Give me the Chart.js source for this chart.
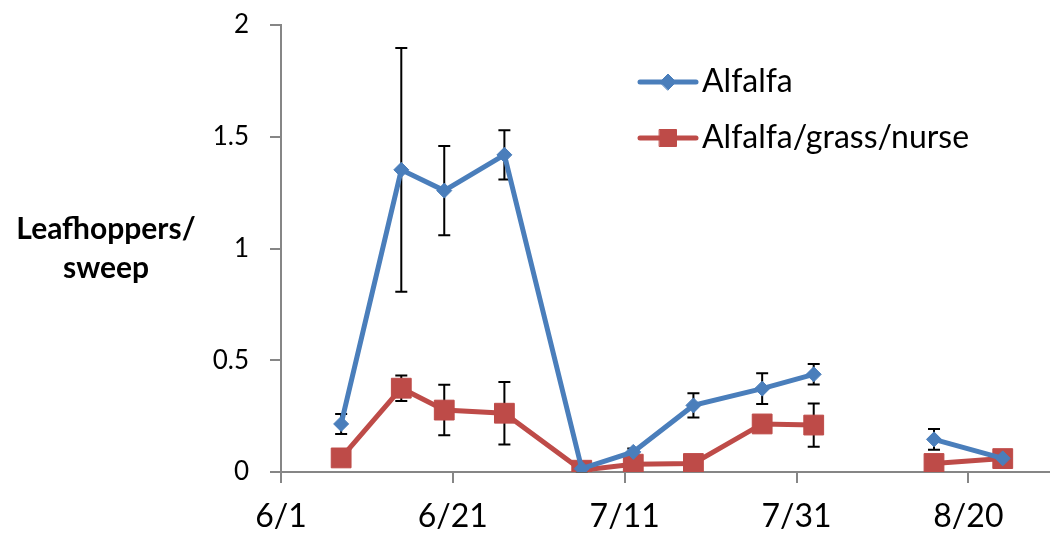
<!DOCTYPE html>
<html>
<head>
<meta charset="utf-8">
<script src="https://cdn.jsdelivr.net/npm/chart.js@4/dist/chart.umd.min.js"></script>
<style>
  body { margin: 0; background: #fff; }
  #wrap { width: 1050px; height: 538px; position: relative; }
</style>
</head>
<body>
<div id="wrap"><canvas id="lineChart"></canvas></div>
<script>
// sample dates as days after 6/1 (null entry = gap in the line)
let sampleDays = [7, 14, 19, 26, 35, 41, 48, 56, 62, 69, 76, 84];
let alfalfa = [0.215, 1.352, 1.259, 1.419, 0.015, 0.09, 0.298, 0.373, 0.437, null, 0.146, 0.061];
let alfalfaErr = [0.045, 0.545, 0.2, 0.11, 0.01, 0.015, 0.054, 0.069, 0.046, null, 0.046, 0.01];
let alfalfaMix = [0.063, 0.375, 0.277, 0.263, 0.008, 0.035, 0.038, 0.215, 0.21, null, 0.038, 0.06];
let alfalfaMixErr = [0.01, 0.057, 0.113, 0.14, 0.005, 0.01, 0.01, 0.015, 0.097, null, 0.01, 0.01];

let tickDays = [0, 20, 40, 60, 80];
let tickLabels = ['6/1', '6/21', '7/11', '7/31', '8/20'];
let seriesNames = ['Alfalfa', 'Alfalfa/grass/nurse'];
let yTitle = ['Leafhoppers/', 'sweep'];

const blue = '#4a7ebb';
const red = '#be4b48';
const axisGray = '#868686';
const fontName = 'Lato, "Open Sans", sans-serif';

function toPoints(values) {
  return sampleDays.map((d, i) => ({ x: d, y: values[i] }));
}

// error bars (behind the markers), y title and legend
const extras = {
  id: 'extras',
  beforeDatasetsDraw(chart) {
    const ctx = chart.ctx;
    const xs = chart.scales.x;
    const ys = chart.scales.y;
    const errs = [alfalfaErr, alfalfaMixErr];
    ctx.save();
    ctx.strokeStyle = '#000';
    ctx.lineWidth = 2;
    chart.data.datasets.forEach((ds, k) => {
      ds.data.forEach((p, i) => {
        let e = errs[k][i];
        if (p.y === null || e === null) return;
        let x = xs.getPixelForValue(p.x);
        let top = ys.getPixelForValue(p.y + e);
        let bot = ys.getPixelForValue(p.y - e);
        ctx.beginPath();
        ctx.moveTo(x, top); ctx.lineTo(x, bot);
        ctx.moveTo(x - 6, top); ctx.lineTo(x + 6, top);
        ctx.moveTo(x - 6, bot); ctx.lineTo(x + 6, bot);
        ctx.stroke();
      });
    });
    ctx.restore();
  },
  afterDraw(chart) {
    const ctx = chart.ctx;
    ctx.save();
    // y axis title, horizontal, two lines
    ctx.fillStyle = '#000';
    ctx.font = 'bold 30px ' + fontName;
    ctx.textAlign = 'center';
    ctx.textBaseline = 'alphabetic';
    ctx.fillText(yTitle[0], 106, 239);
    ctx.fillText(yTitle[1], 106, 278);

    // legend
    const rowY = [82, 138];
    chart.data.datasets.forEach((ds, k) => {
      let y = rowY[k];
      ctx.strokeStyle = ds.borderColor;
      ctx.lineWidth = 5;
      ctx.lineCap = 'round';
      ctx.beginPath();
      ctx.moveTo(640, y); ctx.lineTo(696, y);
      ctx.stroke();
      ctx.fillStyle = ds.pointBackgroundColor;
      ctx.strokeStyle = ds.borderColor;
      ctx.lineWidth = 1;
      Chart.helpers.drawPoint(ctx, { pointStyle: ds.pointStyle, radius: k === 0 ? 8 : 12, borderWidth: 1 }, 668, y);
      ctx.fillStyle = '#000';
      ctx.font = '32px ' + fontName;
      ctx.textAlign = 'left';
      ctx.textBaseline = 'middle';
      ctx.fillText(seriesNames[k], 702, y);
    });
    ctx.restore();
  }
};

let myChart = new Chart(document.getElementById('lineChart'), {
  type: 'line',
  data: {
    datasets: [{
      label: seriesNames[0],
      data: toPoints(alfalfa),
      borderColor: blue,
      backgroundColor: blue,
      pointBackgroundColor: blue,
      borderWidth: 5,
      pointStyle: 'rectRot',
      pointRadius: 7.5,
      pointBorderWidth: 1,
      spanGaps: false
    }, {
      label: seriesNames[1],
      data: toPoints(alfalfaMix),
      borderColor: red,
      backgroundColor: red,
      pointBackgroundColor: red,
      borderWidth: 5,
      pointStyle: 'rect',
      pointRadius: 14,
      pointBorderWidth: 1,
      spanGaps: false
    }]
  },
  options: {
    animation: false,
    responsive: true,
    maintainAspectRatio: false,
    layout: { autoPadding: false, padding: { top: 25, right: 0, left: 0, bottom: 0 } },
    plugins: { legend: { display: false }, tooltip: { enabled: false } },
    scales: {
      x: {
        type: 'linear',
        min: 0,
        max: 89.5,
        afterFit(scale) {
          scale.height = 66;
          scale.paddingLeft = 0;
          scale.paddingRight = 0;
        },
        grid: { drawOnChartArea: false, tickLength: 11, color: axisGray, lineWidth: 2 },
        border: { color: axisGray, width: 2 },
        ticks: {
          stepSize: 20,
          includeBounds: false,
          maxRotation: 0,
          autoSkip: false,
          padding: 14,
          color: '#000',
          font: { family: fontName, size: 32 },
          callback: (v) => {
            let i = tickDays.indexOf(v);
            return i >= 0 ? tickLabels[i] : '';
          }
        }
      },
      y: {
        min: 0,
        max: 2,
        afterFit(scale) {
          scale.width = 281;
          scale.paddingTop = 0;
          scale.paddingBottom = 0;
        },
        grid: { drawOnChartArea: false, tickLength: 11, color: axisGray, lineWidth: 2 },
        border: { color: axisGray, width: 2 },
        ticks: {
          stepSize: 0.5,
          padding: 21,
          color: '#000',
          font: { family: fontName, size: 26 },
          callback: (v) => String(v)
        }
      }
    }
  },
  plugins: [extras]
});
</script>
</body>
</html>
